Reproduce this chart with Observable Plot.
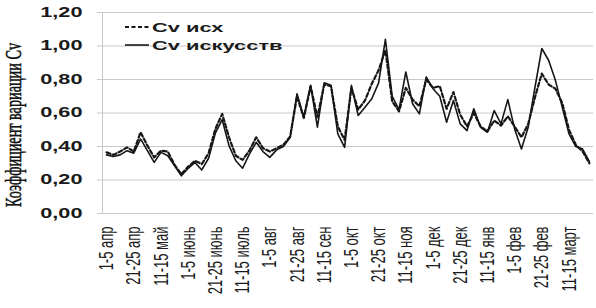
<!DOCTYPE html>
<html><head><meta charset="utf-8">
<script src="https://cdn.jsdelivr.net/npm/d3@7"></script>
<script src="https://cdn.jsdelivr.net/npm/@observablehq/plot@0.6"></script>
<style>
html,body{margin:0;padding:0;background:#fff;}
#chart{position:relative;width:596px;height:308px;overflow:hidden;}
.lg-line{position:absolute;left:125px;width:24px;height:10px;}
.lg-text{position:absolute;left:152px;font:bold 13px "Liberation Sans",Arial,sans-serif;line-height:13px;color:#1a1a1a;white-space:nowrap;transform:scaleX(1.68);transform-origin:left center;}
</style></head>
<body><div id="chart"></div>
<script>
const months = ["апр","май","июнь","июль","авг","сен","окт","ноя","дек","янв","фев","март"];
const pentads = ["1-5","6-10","11-15","16-20","21-25","26-30"];
const periods = months.flatMap(m => pentads.map(p => `${p} ${m}`));
const tickLabels = periods.filter((d, i) => i % 4 === 0);
const seriesNames = ["Cv исх", "Cv искусств"];
const cvIsh = [0.365,0.35,0.37,0.395,0.37,0.485,0.405,0.335,0.375,0.37,0.29,0.235,
  0.28,0.315,0.295,0.36,0.505,0.595,0.455,0.345,0.32,0.375,0.455,0.39,
  0.37,0.39,0.41,0.46,0.70,0.57,0.76,0.575,0.77,0.76,0.52,0.44,
  0.75,0.62,0.675,0.775,0.855,0.975,0.67,0.61,0.75,0.68,0.64,0.80,
  0.75,0.76,0.625,0.725,0.59,0.52,0.60,0.52,0.49,0.555,0.525,0.58,
  0.52,0.455,0.535,0.695,0.835,0.77,0.745,0.66,0.50,0.41,0.37,0.30];
const cvIskusstv = [0.35,0.34,0.35,0.375,0.36,0.445,0.375,0.305,0.365,0.345,0.285,0.225,
  0.27,0.305,0.26,0.33,0.48,0.56,0.405,0.315,0.27,0.355,0.425,0.37,
  0.335,0.38,0.40,0.455,0.715,0.575,0.765,0.515,0.78,0.765,0.475,0.395,
  0.765,0.585,0.635,0.685,0.78,1.04,0.70,0.62,0.845,0.655,0.595,0.815,
  0.745,0.70,0.545,0.675,0.535,0.495,0.625,0.515,0.485,0.615,0.535,0.68,
  0.505,0.385,0.515,0.755,0.985,0.915,0.795,0.635,0.475,0.40,0.385,0.31];
const yTicks = [0, 0.2, 0.4, 0.6, 0.8, 1.0, 1.2];
const yTitle = "Коэффициент вариации Cv";

const fmt = d => d3.format(".2f")(d).replace(".", ",");
const grid = "#c8c8c8";
const ink = "#161616";

const plot = Plot.plot({
  width: 596, height: 308,
  marginLeft: 102, marginRight: 3, marginTop: 12, marginBottom: 95,
  style: {fontFamily: '"Liberation Sans", Arial, sans-serif', background: "#fff", color: "#1a1a1a"},
  x: {type: "point", domain: periods, padding: 0.6, label: null},
  y: {domain: [0, 1.2], label: null},
  marks: [
    Plot.gridY(yTicks, {stroke: grid, strokeOpacity: 1}),
    Plot.frame({anchor: "left", stroke: grid}),
    Plot.axisY(yTicks, {tickFormat: fmt, tickSize: 5, tickPadding: 15, stroke: grid, fontSize: 14, fontWeight: "bold", label: null}),
    Plot.axisX(tickLabels, {tickRotate: -90, tickSize: 0, tickPadding: 13, fontSize: 13, label: null}),
    Plot.text([yTitle], {frameAnchor: "left", textAnchor: "middle", rotate: -90, dx: -89, dy: 12, fontFamily: '"Liberation Serif", "Times New Roman", serif', fontSize: 13, fill: "#111"}),
    Plot.lineY(cvIskusstv, {x: periods, y: d => d, stroke: ink, strokeWidth: 1.6}),
    Plot.lineY(cvIsh, {x: periods, y: d => d, stroke: ink, strokeWidth: 2.2, strokeDasharray: "4,2.5"})
  ]
});
const chart = document.getElementById("chart");
chart.appendChild(plot);

const svg = d3.select(plot);
function appendTransform(sel, extra) {
  sel.each(function() {
    const t = this.getAttribute("transform") || "";
    this.setAttribute("transform", t + " " + extra);
  });
}
appendTransform(svg.selectAll('g[aria-label="y-axis tick label"] text'), "scale(1.55,1)");
appendTransform(svg.selectAll('g[aria-label="x-axis tick label"] text'), "scale(1,1.6)");
const titleText = svg.selectAll('g[aria-label="text"] text');
titleText.attr("textLength", 164).attr("lengthAdjust", "spacingAndGlyphs").attr("stroke", "#111").attr("stroke-width", 0.3);
appendTransform(titleText, "scale(1,1.8)");

// legend
const legend = [
  {name: seriesNames[0], dash: "4,2.5", width: 2.2, lineTop: 22, textTop: 21.3},
  {name: seriesNames[1], dash: null, width: 1.6, lineTop: 40, textTop: 39.3}
];
for (const l of legend) {
  const s = d3.select(chart).append("svg").attr("class", "lg-line").style("top", l.lineTop + "px").attr("width", 24).attr("height", 10);
  s.append("line").attr("x1", 0).attr("x2", 24).attr("y1", 5).attr("y2", 5)
    .attr("stroke", ink).attr("stroke-width", l.width).attr("stroke-dasharray", l.dash);
  d3.select(chart).append("div").attr("class", "lg-text").style("top", l.textTop + "px").text(l.name);
}
</script>
</body></html>
